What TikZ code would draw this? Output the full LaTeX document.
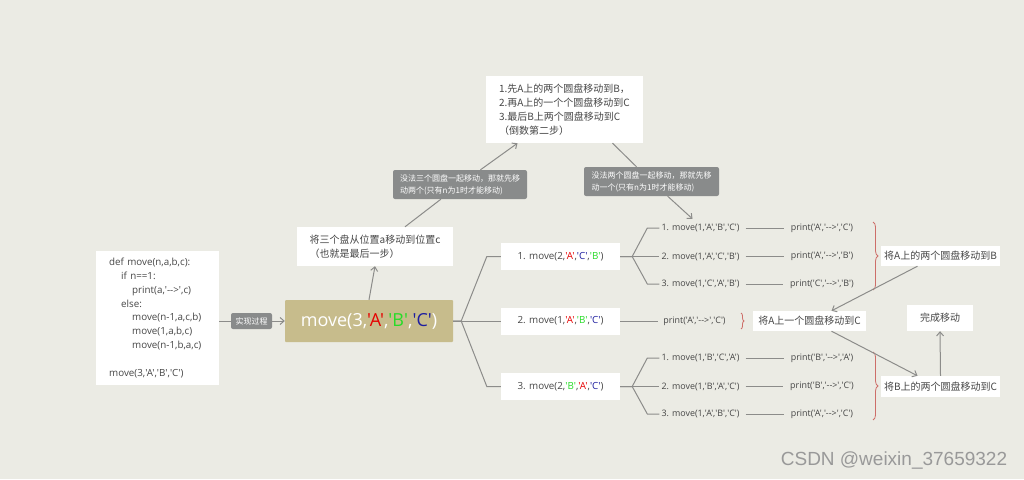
\documentclass[tikz,border=0pt]{standalone}
\usepackage{fontspec}
\newfontfamily\cjk{Noto Sans CJK SC}
\newfontfamily\lat{Open Sans}
\newfontfamily\wm{Liberation Sans}
\usetikzlibrary{arrows.meta, calc, decorations.pathreplacing}
\definecolor{bgc}{RGB}{235,235,228}
\definecolor{khaki}{RGB}{199,188,140}
\definecolor{tagc}{RGB}{137,139,139}
\definecolor{linec}{RGB}{140,140,138}
\definecolor{txtc}{RGB}{70,70,70}
\definecolor{qred}{RGB}{230,0,0}
\definecolor{qgreen}{RGB}{40,220,40}
\definecolor{qblue}{RGB}{30,30,160}
\definecolor{brc}{RGB}{205,110,105}
\newcommand\qq[2]{\textcolor{#1}{'#2'}}
\def\arw{-\kern0pt->}

\tikzset{
  box/.style={fill=white, inner sep=2pt, text=txtc, font=\cjk\fontsize{10}{14}\selectfont},
  movebox/.style={box, minimum width=119pt, minimum height=27pt, font=\lat\fontsize{9.8}{11}\selectfont},
  tag/.style={fill=tagc, rounded corners=2pt, inner sep=2pt, text=white, font=\cjk\fontsize{8}{12}\selectfont},
  call/.style={inner sep=2pt, text=txtc, font=\lat\fontsize{8.9}{10}\selectfont},
  link/.style={draw=linec, line width=1pt},
  twig/.style={draw=linec, line width=0.8pt},
  arr/.style={link, -{Straight Barb[length=4pt, width=7pt]}},
  curly/.style={draw=brc, line width=0.8pt, decorate, decoration={brace, amplitude=#1}},
  curly/.default=5,
}

\begin{document}
\begin{tikzpicture}[x=1pt, y=-1pt]
  %tikz  hanoi, move(3,A,B,C)
    \fill[bgc] (0,0) rectangle (1024,479);
    \useasboundingbox (0,0) rectangle (1024,479);

    \node[box, align=left, text width=97pt, inner xsep=13pt, inner ysep=7pt, anchor=north west,
          font=\lat\fontsize{9.8}{13.8}\selectfont] (code) at (96,251)
      {def move(n,a,b,c):\\
       \hspace*{12pt}if n==1:\\
       \hspace*{23pt}print(a,'\arw',c)\\
       \hspace*{12pt}else:\\
       \hspace*{23pt}move(n-1,a,c,b)\\
       \hspace*{23pt}move(1,a,b,c)\\
       \hspace*{23pt}move(n-1,b,a,c)\\[13.8pt]
       move(3,'A','B','C')};
    \node[tag, minimum width=41pt, minimum height=16pt] (how) at (251.5,321) {实现过程};
    \node[box, fill=khaki, text=white, rounded corners=1pt, minimum width=168pt, minimum height=42pt,
          font=\lat\fontsize{18}{20}\selectfont] (root) at (369,321)
      {move(3,\qq{qred}{A},\qq{qgreen}{B},\qq{qblue}{C})};

    \node[box, align=left, minimum width=156pt, minimum height=39pt] (last) at (375,246.5)
      {将三个盘从位置a移动到位置c\\（也就是最后一步）};
    \node[box, align=left, minimum width=157pt, minimum height=67pt] (plan) at (564.5,109.5)
      {1.先A上的两个圆盘移动到B，\\2.再A上的一个个圆盘移动到C\\3.最后B上两个圆盘移动到C\\（倒数第二步）};
    \node[tag, align=left, minimum width=134pt, minimum height=29pt] (why3) at (460,184.5)
      {没法三个圆盘一起移动，那就先移\\动两个(只有n为1时才能移动)};
    \node[tag, align=left, minimum width=135pt, minimum height=29pt] (why2) at (651.5,181.5)
      {没法两个圆盘一起移动，那就先移\\动一个(只有n为1时才能移动)};

    \node[movebox] (m1) at (560.5,256.5) {1. move(2,\qq{qred}{A},\qq{qblue}{C},\qq{qgreen}{B})};
    \node[movebox] (m2) at (560.5,321)   {2. move(1,\qq{qred}{A},\qq{qgreen}{B},\qq{qblue}{C})};
    \node[movebox] (m3) at (560.5,386.5) {3. move(2,\qq{qgreen}{B},\qq{qred}{A},\qq{qblue}{C})};

    \node[call] (s11) at (700.5,228) {1. move(1,'A','B','C')};
    \node[call] (s12) at (700.5,256.5) {2. move(1,'A','C','B')};
    \node[call] (s13) at (700.5,284) {3. move(1,'C','A','B')};
    \node[call] (s31) at (700.5,358) {1. move(1,'B','C','A')};
    \node[call] (s32) at (700.5,386.5) {2. move(1,'B','A','C')};
    \node[call] (s33) at (700.5,414) {3. move(1,'A','B','C')};

    \node[call] (p11) at (822,228) {print('A','\arw','C')};
    \node[call] (p12) at (822,256.5) {print('A','\arw','B')};
    \node[call] (p13) at (822,284) {print('C','\arw','B')};
    \node[call] (p2) at (694.5,321) {print('A','\arw','C')};
    \node[call] (p31) at (822,358) {print('B','\arw','A')};
    \node[call] (p32) at (822,386.5) {print('B','\arw','C')};
    \node[call] (p33) at (822,414) {print('A','\arw','C')};

    \node[box, minimum width=119pt, minimum height=20pt] (toB) at (940.5,256) {将A上的两个圆盘移动到B};
    \node[box, minimum width=113pt, minimum height=20pt] (toC1) at (809.5,321) {将A上一个圆盘移动到C};
    \node[box, minimum width=119pt, minimum height=21pt] (toC2) at (940.5,386.5) {将B上的两个圆盘移动到C};
    \node[box, minimum width=66pt, minimum height=26pt] (done) at (940,318) {完成移动};

    \node[text=black!40, font=\wm\fontsize{19}{20}\selectfont] (mark) at (894,460) {CSDN @weixin\_37659322};

    \draw[link] (code.east |- how) -- (how);
    \draw[arr] (how) -- (root);
    \draw[arr] (root.north) -- (last.south);
    \draw[link] ($(last.north)+(30,0)$) -- (why3);
    \draw[arr] (why3) -- ($(plan.south)+(-47,0)$);
    \draw[link] ($(plan.south)+(48,0)$) -- (why2);
    \draw[arr] (why2) -- ($(s11.north)+(-8,-3)$);

    \draw[link] (root.east) -- ++(8,0) -- ($(m1.west)+(-14,0)$) -- (m1.west);
    \draw[link] (root.east) -- (m2.west);
    \draw[link] (root.east) -- ++(8,0) -- ($(m3.west)+(-14,0)$) -- (m3.west);

    \draw[link] (m1.east) -- ++(12,0) -- ($(s11.west)+(-12,0)$) -- (s11.west);
    \draw[link] (m1.east) -- (s12.west);
    \draw[link] (m1.east) -- ++(12,0) -- ($(s13.west)+(-12,0)$) -- (s13.west);
    \draw[link] (m3.east) -- ++(12,0) -- ($(s31.west)+(-12,0)$) -- (s31.west);
    \draw[link] (m3.east) -- (s32.west);
    \draw[link] (m3.east) -- ++(12,0) -- ($(s33.west)+(-12,0)$) -- (s33.west);

    \draw[twig, shorten <=4pt, shorten >=5pt] (s11) -- (p11);
    \draw[twig, shorten <=4pt, shorten >=5pt] (s12) -- (p12);
    \draw[twig, shorten <=4pt, shorten >=5pt] (s13) -- (p13);
    \draw[twig, shorten <=4pt, shorten >=5pt] (s31) -- (p31);
    \draw[twig, shorten <=4pt, shorten >=5pt] (s32) -- (p32);
    \draw[twig, shorten <=4pt, shorten >=5pt] (s33) -- (p33);
    \draw[link, shorten >=3pt] (m2) -- (p2);

    \draw[curly] (873,222) -- (873,290);
    \draw[curly=3] (741,313) -- (741,329);
    \draw[curly] (873,352) -- (873,420);

    \draw[arr] ($(toB.south)+(-23,0)$) -- ($(toC1.north)+(22,0)$);
    \draw[arr] ($(toC1.south)+(22,0)$) -- ($(toC2.north)+(-23,0)$);
    \draw[arr] (toC2.north) -- (done.south);
\end{tikzpicture}
\end{document}
